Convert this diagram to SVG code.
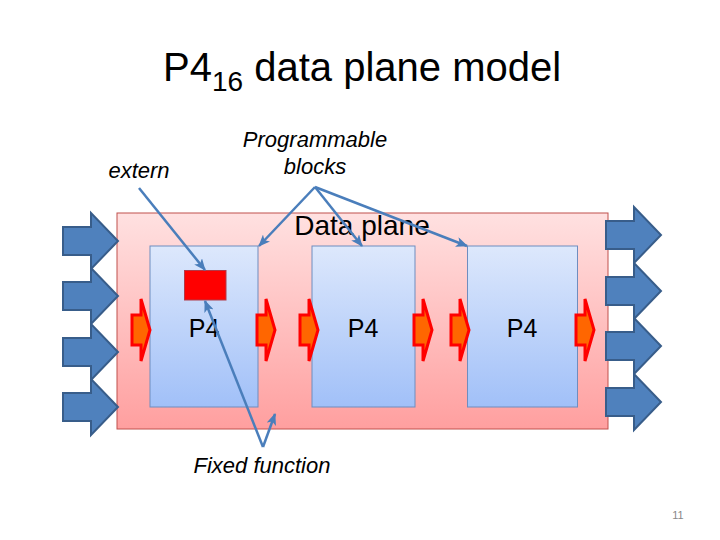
<svg xmlns="http://www.w3.org/2000/svg" width="720" height="540" viewBox="0 0 720 540">
<style>
  .title { font-family: "Liberation Sans", Arial, sans-serif; font-size: 40px; fill: #000; }
  .lbl { font-family: "Liberation Sans", Arial, sans-serif; font-style: italic; font-size: 22px; fill: #000; text-anchor: middle; }
  .p4 { font-family: "Liberation Sans", Arial, sans-serif; font-size: 25px; fill: #000; text-anchor: middle; }
  .dp { font-family: "Liberation Sans", Arial, sans-serif; font-size: 28px; fill: #000; text-anchor: middle; }
  .blk { fill: url(#gBlue); stroke: #6F8DBF; stroke-width: 1; }
  .big { fill: #4F81BD; stroke: #385D8A; stroke-width: 2; }
  .small { fill: #FF6600; stroke: #FF0000; stroke-width: 3; stroke-linejoin: miter; }
  .conn { fill: none; stroke: #4A7EBB; stroke-width: 2.5; marker-end: url(#ah); }
</style>
<defs>
  <linearGradient id="gPink" x1="0" y1="0" x2="0" y2="1">
    <stop offset="0" stop-color="#FFE1E1"/>
    <stop offset="1" stop-color="#FF9F9F"/>
  </linearGradient>
  <linearGradient id="gBlue" x1="0" y1="0" x2="0" y2="1">
    <stop offset="0" stop-color="#DDE8FC"/>
    <stop offset="1" stop-color="#A1C0F8"/>
  </linearGradient>
  <path id="bigArrow" d="M0,-14 H28 V-28 L55,0 L28,28 V14 H0 Z"/>
  <path id="smallArrow" d="M0,-15 H9 V-31 L18,0 L9,31 V15 H0 Z"/>
  <marker id="ah" markerWidth="12" markerHeight="10" refX="11" refY="5" orient="auto" markerUnits="userSpaceOnUse">
    <path d="M0,0 L12,5 L0,10 L3,5 Z" fill="#4A7EBB"/>
  </marker>
</defs>

<text class="title" x="163" y="81">P4<tspan font-size="28" dy="10">16</tspan><tspan dy="-10"> data plane model</tspan></text>

<g id="dataplane">
  <rect x="117" y="213" width="491" height="216" fill="url(#gPink)" stroke="#C0504D" stroke-width="1"/>
  <text class="dp" x="362" y="235">Data plane</text>
</g>

<g id="inputs">
  <use href="#bigArrow" class="big" x="63" y="241"/>
  <use href="#bigArrow" class="big" x="63" y="296"/>
  <use href="#bigArrow" class="big" x="63" y="352"/>
  <use href="#bigArrow" class="big" x="63" y="407"/>
</g>
<g id="outputs">
  <use href="#bigArrow" class="big" x="606" y="235"/>
  <use href="#bigArrow" class="big" x="606" y="291"/>
  <use href="#bigArrow" class="big" x="606" y="346"/>
  <use href="#bigArrow" class="big" x="606" y="402"/>
</g>

<g id="block1">
  <rect class="blk" x="150" y="246" width="108" height="161"/>
  <text class="p4" x="204" y="337">P4</text>
</g>
<g id="block2">
  <rect class="blk" x="312" y="246" width="103" height="161"/>
  <text class="p4" x="363" y="337">P4</text>
</g>
<g id="block3">
  <rect class="blk" x="467.5" y="246" width="110" height="161"/>
  <text class="p4" x="522" y="337">P4</text>
</g>

<g id="extern-block">
  <rect x="184.5" y="270.5" width="41.5" height="29.5" fill="#FF0000" stroke="#B03A48" stroke-width="1"/>
</g>

<g id="pipe-arrows">
  <use href="#smallArrow" class="small" x="132" y="330"/>
  <use href="#smallArrow" class="small" x="257" y="330"/>
  <use href="#smallArrow" class="small" x="300" y="330"/>
  <use href="#smallArrow" class="small" x="414" y="330"/>
  <use href="#smallArrow" class="small" x="451" y="330"/>
  <use href="#smallArrow" class="small" x="576" y="330"/>
</g>

<g id="labels">
  <text class="lbl" x="139" y="178">extern</text>
  <text class="lbl" x="315" y="147">Programmable</text>
  <text class="lbl" x="315" y="174">blocks</text>
  <text class="lbl" x="262" y="473">Fixed function</text>
</g>

<g id="connectors">
  <line class="conn" x1="139" y1="188" x2="205" y2="270"/>
  <line class="conn" x1="315" y1="187" x2="259" y2="246"/>
  <line class="conn" x1="315" y1="187" x2="362" y2="246"/>
  <line class="conn" x1="315" y1="187" x2="467" y2="246"/>
  <line class="conn" x1="263" y1="447" x2="205" y2="301"/>
  <line class="conn" x1="263" y1="447" x2="275" y2="414"/>
</g>

<text x="678" y="519" font-family="Liberation Sans, Arial, sans-serif" font-size="11" fill="#888888" text-anchor="middle">11</text>
</svg>
